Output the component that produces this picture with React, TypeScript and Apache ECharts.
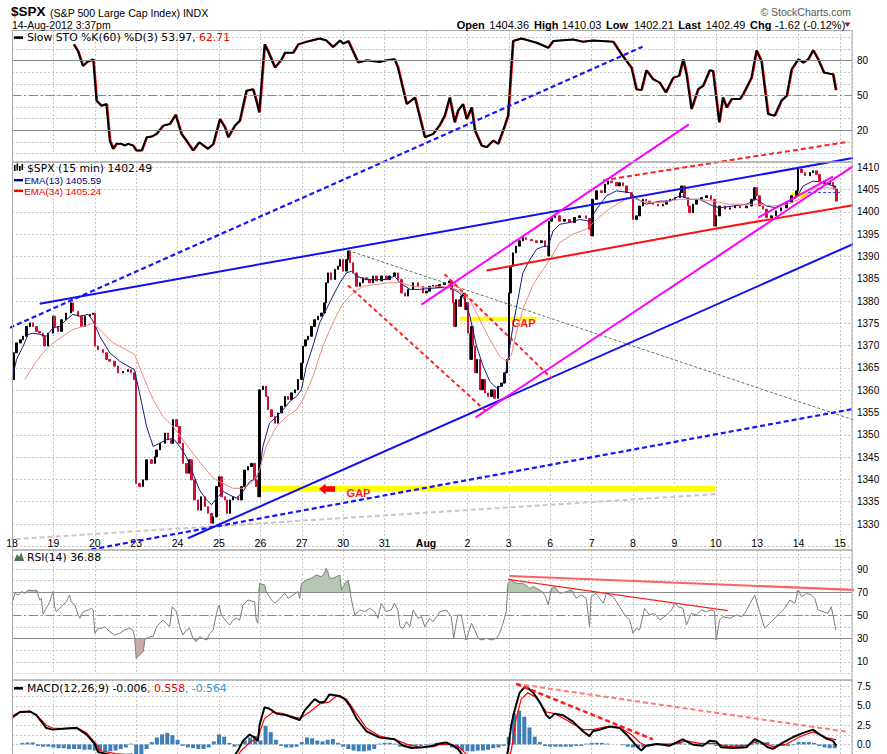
import React, { useEffect, useRef } from 'react';
import * as echarts from 'echarts';

// ---------- DATA (x = trading-day index from Jul 18, y = value) ----------
const DAY_LABELS = ['18', '19', '20', '23', '24', '25', '26', '27', '30', '31', 'Aug', '2', '3', '6', '7', '8', '9', '10', '13', '14', '15'];

// $SPX 15-min price path (day, price)
const PRICE: [number, number][] = [
  [0.0, 1362.4], [0.04, 1368.4], [0.11, 1370.6], [0.2, 1371.3], [0.27, 1372.1], [0.35, 1374.3], [0.43, 1375.1], [0.51, 1374.3], [0.59, 1373.2], [0.67, 1372.8], [0.75, 1372.1], [0.79, 1369.9], [0.87, 1372.8], [0.99, 1376.6], [1.03, 1374.3], [1.11, 1373.2], [1.19, 1375.8], [1.31, 1377.3], [1.43, 1379.6], [1.47, 1377.7], [1.6, 1376.6], [1.68, 1374.3], [1.76, 1376.6], [1.88, 1377.0], [1.96, 1377.3],
  [2.0, 1369.9], [2.08, 1369.1], [2.2, 1368.4], [2.28, 1366.9], [2.36, 1366.5], [2.48, 1365.4], [2.56, 1363.9], [2.68, 1364.2], [2.8, 1364.6], [2.88, 1363.9], [2.96, 1362.4],
  [3.0, 1339.1], [3.08, 1338.4], [3.17, 1339.9], [3.25, 1344.4], [3.37, 1343.6], [3.45, 1345.1], [3.49, 1346.6], [3.57, 1348.1], [3.69, 1350.4], [3.77, 1348.9], [3.85, 1348.1], [3.89, 1353.4], [3.97, 1351.9],
  [4.05, 1348.1], [4.13, 1343.6], [4.21, 1341.4], [4.29, 1344.4], [4.33, 1339.9], [4.41, 1335.4], [4.49, 1333.1], [4.57, 1336.1], [4.66, 1333.9], [4.74, 1332.4], [4.82, 1330.2], [4.86, 1331.6], [4.94, 1338.4],
  [5.0, 1340.6], [5.06, 1336.1], [5.14, 1335.4], [5.19, 1332.4], [5.26, 1335.4], [5.34, 1336.1], [5.46, 1335.4], [5.54, 1338.4], [5.62, 1342.1], [5.7, 1342.9], [5.78, 1343.6], [5.86, 1339.9], [5.9, 1338.4], [5.94, 1336.1],
  [5.98, 1360.1], [6.06, 1360.9], [6.14, 1358.6], [6.18, 1355.6], [6.27, 1354.1], [6.35, 1352.6], [6.43, 1354.9], [6.51, 1356.4], [6.59, 1358.6], [6.67, 1357.9], [6.75, 1359.4], [6.83, 1360.1], [6.91, 1362.4], [6.99, 1366.1],
  [7.03, 1369.9], [7.09, 1371.3], [7.15, 1372.1], [7.23, 1374.3], [7.31, 1375.8], [7.39, 1376.6], [7.47, 1377.3], [7.55, 1379.6], [7.59, 1384.1], [7.63, 1386.3], [7.71, 1384.8], [7.8, 1387.1], [7.88, 1387.8], [7.92, 1389.3],
  [8.0, 1386.7], [8.08, 1389.3], [8.12, 1391.2], [8.17, 1388.6], [8.24, 1386.3], [8.32, 1383.3], [8.4, 1384.1], [8.48, 1385.2], [8.56, 1384.8], [8.64, 1384.1], [8.72, 1385.6], [8.8, 1384.5], [8.92, 1385.6],
  [9.04, 1384.8], [9.12, 1385.6], [9.24, 1386.3], [9.32, 1384.8], [9.41, 1381.8], [9.49, 1381.1], [9.57, 1382.6], [9.69, 1384.1], [9.81, 1383.3], [9.93, 1381.8],
  [10.01, 1382.2], [10.09, 1383.3], [10.17, 1383.5], [10.25, 1383.0], [10.33, 1383.7], [10.45, 1384.1], [10.57, 1384.5], [10.61, 1382.6], [10.65, 1379.6], [10.69, 1374.3], [10.73, 1380.3], [10.81, 1378.8], [10.85, 1381.1], [10.89, 1381.8], [10.94, 1378.1], [10.98, 1379.6],
  [11.02, 1372.8], [11.06, 1366.9], [11.1, 1374.3], [11.14, 1369.9], [11.18, 1363.9], [11.23, 1366.9], [11.3, 1360.1], [11.36, 1362.4], [11.42, 1359.4], [11.5, 1358.6], [11.58, 1360.1], [11.66, 1358.2], [11.74, 1360.9], [11.82, 1361.6], [11.9, 1363.9], [11.96, 1366.9],
  [12.01, 1381.8], [12.04, 1387.8], [12.1, 1390.8], [12.18, 1392.3], [12.26, 1393.5], [12.34, 1394.2], [12.42, 1393.8], [12.55, 1393.5], [12.67, 1393.1], [12.79, 1393.5], [12.87, 1392.3], [12.95, 1390.1],
  [12.97, 1397.9], [13.03, 1398.7], [13.11, 1399.1], [13.23, 1397.9], [13.35, 1398.3], [13.47, 1397.6], [13.59, 1398.7], [13.71, 1399.1], [13.87, 1398.5], [13.95, 1396.1], [13.99, 1394.6],
  [14.02, 1402.8], [14.12, 1404.7], [14.24, 1404.3], [14.32, 1406.2], [14.4, 1406.9], [14.48, 1406.6], [14.6, 1405.8], [14.68, 1406.5], [14.76, 1405.8], [14.84, 1404.3], [14.96, 1403.2],
  [15.0, 1398.3], [15.08, 1399.1], [15.16, 1401.3], [15.24, 1402.8], [15.32, 1402.4], [15.4, 1402.1], [15.48, 1401.7], [15.61, 1401.3], [15.73, 1401.7], [15.81, 1402.4], [15.89, 1402.8],
  [16.01, 1403.2], [16.13, 1404.3], [16.17, 1405.8], [16.25, 1403.2], [16.33, 1401.3], [16.37, 1399.8], [16.45, 1401.7], [16.53, 1402.8], [16.65, 1403.2], [16.77, 1403.6], [16.89, 1402.8],
  [16.97, 1396.8], [17.01, 1399.1], [17.09, 1401.3], [17.22, 1400.6], [17.34, 1400.9], [17.46, 1401.3], [17.58, 1400.9], [17.74, 1401.3], [17.86, 1402.8], [17.94, 1405.4],
  [17.98, 1403.6], [18.06, 1401.3], [18.14, 1400.6], [18.22, 1398.7], [18.34, 1399.1], [18.46, 1400.2], [18.58, 1400.9], [18.71, 1402.1], [18.83, 1403.6], [18.95, 1404.7],
  [18.99, 1409.6], [19.07, 1408.8], [19.15, 1408.1], [19.27, 1408.8], [19.35, 1409.2], [19.43, 1408.4], [19.51, 1406.9], [19.63, 1406.2], [19.75, 1406.6], [19.83, 1405.8], [19.87, 1405.1], [19.91, 1402.4],
];

const EMA13: [number, number][] = [
  [0.0, 1362.4], [0.11, 1366.9], [0.27, 1369.9], [0.39, 1372.5], [0.51, 1372.8], [0.67, 1372.5], [0.83, 1372.1], [0.99, 1374.0], [1.15, 1374.3], [1.31, 1375.8], [1.47, 1377.0], [1.64, 1376.6], [1.84, 1377.0], [1.96, 1375.5],
  [2.12, 1372.1], [2.36, 1368.4], [2.6, 1366.5], [2.8, 1365.4], [2.96, 1364.6], [3.08, 1359.4], [3.25, 1351.9], [3.41, 1347.4], [3.57, 1348.1], [3.73, 1348.9], [3.89, 1349.2], [4.05, 1347.4], [4.21, 1345.1], [4.37, 1341.4],
  [4.53, 1337.6], [4.7, 1335.4], [4.82, 1334.3], [4.94, 1335.8], [5.1, 1337.3], [5.26, 1336.5], [5.42, 1335.8], [5.58, 1337.3], [5.74, 1339.5], [5.9, 1340.3], [5.98, 1341.4], [6.06, 1347.4], [6.22, 1352.6], [6.39, 1354.1],
  [6.55, 1355.6], [6.71, 1357.5], [6.87, 1358.6], [6.99, 1360.1], [7.11, 1365.4], [7.27, 1369.9], [7.43, 1375.1], [7.59, 1378.1], [7.75, 1381.1], [7.92, 1384.1], [8.08, 1386.3], [8.2, 1386.7], [8.32, 1385.6], [8.56, 1384.8],
  [8.8, 1384.8], [9.04, 1384.8], [9.24, 1385.6], [9.37, 1384.1], [9.61, 1382.6], [9.85, 1382.6], [10.33, 1383.0], [10.61, 1383.0], [10.81, 1381.8], [10.94, 1380.3], [11.06, 1376.6], [11.22, 1369.9], [11.38, 1365.4],
  [11.54, 1362.0], [11.7, 1360.5], [11.82, 1360.9], [11.9, 1362.4], [11.98, 1366.9], [12.1, 1374.3], [12.22, 1380.3], [12.34, 1386.3], [12.51, 1389.3], [12.67, 1391.6], [12.83, 1392.2], [12.95, 1392.3], [13.07, 1395.7],
  [13.23, 1397.2], [13.47, 1397.6], [13.71, 1398.3], [13.95, 1397.9], [14.12, 1400.6], [14.36, 1403.6], [14.6, 1404.7], [14.92, 1404.3], [15.12, 1402.8], [15.32, 1401.7], [15.65, 1402.4], [15.89, 1402.4], [16.13, 1403.6],
  [16.37, 1402.8], [16.61, 1402.8], [16.93, 1401.3], [17.09, 1400.9], [17.42, 1401.3], [17.74, 1401.7], [17.98, 1402.8], [18.22, 1401.3], [18.46, 1400.9], [18.71, 1402.1], [18.95, 1403.2], [19.11, 1405.8], [19.35, 1406.9],
  [19.59, 1406.6], [19.83, 1405.8], [19.91, 1405.6],
];

const EMA34: [number, number][] = [
  [0.31, 1362.4], [0.51, 1365.4], [0.75, 1368.4], [0.99, 1370.6], [1.23, 1372.1], [1.47, 1373.6], [1.72, 1374.3], [1.96, 1375.1], [2.12, 1373.6], [2.44, 1370.6], [2.76, 1369.1], [2.96, 1368.0], [3.17, 1363.1], [3.41, 1357.9],
  [3.65, 1354.1], [3.89, 1351.9], [4.13, 1348.9], [4.37, 1345.9], [4.62, 1342.9], [4.86, 1340.3], [5.1, 1339.1], [5.34, 1338.0], [5.58, 1338.0], [5.82, 1339.5], [5.98, 1342.1], [6.14, 1347.5], [6.39, 1351.9], [6.63, 1354.1],
  [6.87, 1355.6], [7.03, 1357.9], [7.27, 1363.1], [7.51, 1369.9], [7.75, 1375.1], [8.0, 1379.6], [8.24, 1381.8], [8.48, 1383.3], [8.8, 1383.7], [9.12, 1384.1], [9.37, 1384.1], [9.69, 1383.3], [10.01, 1383.0], [10.33, 1383.3],
  [10.61, 1383.0], [10.81, 1382.2], [11.06, 1380.3], [11.3, 1375.8], [11.54, 1371.4], [11.78, 1367.6], [11.94, 1366.5], [12.06, 1367.8], [12.18, 1372.8], [12.34, 1378.1], [12.59, 1383.7], [12.83, 1387.1], [12.99, 1389.3],
  [13.23, 1393.1], [13.55, 1395.0], [13.87, 1396.1], [14.12, 1398.3], [14.36, 1400.2], [14.68, 1402.1], [14.92, 1403.2], [15.32, 1402.1], [15.73, 1402.1], [16.13, 1402.8], [16.53, 1402.8], [16.93, 1402.4], [17.34, 1401.7],
  [17.74, 1401.7], [18.06, 1401.7], [18.38, 1401.3], [18.71, 1401.7], [19.03, 1402.8], [19.35, 1405.1], [19.67, 1405.4], [19.91, 1405.2],
];

// Slow STO %K(60)
const STO_K: [number, number][] = [
  [1.49, 94.0], [1.59, 88.3], [1.71, 75.4], [1.81, 78.9], [1.92, 80.3], [1.96, 81.2], [2.04, 45.4], [2.16, 41.1], [2.28, 42.6], [2.36, 11.1], [2.44, 4.0], [2.52, 8.3], [2.64, 8.3], [2.72, 6.9], [2.8, 8.3], [2.92, 6.9],
  [3.0, 2.6], [3.13, 2.6], [3.25, 14.0], [3.37, 14.6], [3.49, 16.9], [3.65, 24.0], [3.81, 25.4], [3.95, 33.4], [4.09, 16.9], [4.21, 11.1], [4.37, 2.6], [4.52, 9.7], [4.73, 4.0], [4.86, 8.3], [5.02, 29.7], [5.14, 22.6],
  [5.22, 14.0], [5.38, 24.0], [5.5, 28.3], [5.66, 54.0], [5.82, 55.4], [5.9, 45.4], [5.97, 35.4], [6.1, 94.0], [6.18, 88.3], [6.35, 74.0], [6.51, 81.2], [6.59, 86.8], [6.79, 86.8], [6.91, 94.0], [7.11, 96.3], [7.43, 99.1],
  [7.59, 97.4], [7.75, 91.7], [7.92, 97.4], [8.0, 94.6], [8.12, 96.9], [8.36, 78.3], [8.56, 80.3], [8.88, 78.9], [9.04, 80.3], [9.24, 81.2], [9.32, 74.0], [9.53, 42.6], [9.73, 48.3], [9.97, 14.0], [10.17, 16.9],
  [10.33, 24.5], [10.45, 32.6], [10.57, 48.3], [10.69, 26.8], [10.77, 36.9], [10.89, 42.6], [10.98, 29.7], [11.1, 39.7], [11.18, 19.7], [11.34, 6.9], [11.46, 5.4], [11.62, 11.1], [11.74, 8.3], [11.9, 24.0], [11.98, 32.6],
  [12.1, 96.9], [12.3, 99.1], [12.67, 95.4], [12.95, 91.1], [13.07, 96.9], [13.55, 98.3], [13.79, 96.3], [14.03, 97.4], [14.52, 96.3], [14.72, 85.4], [14.96, 74.0], [15.08, 55.4], [15.2, 54.6], [15.32, 71.7], [15.48, 64.0],
  [15.64, 61.1], [15.79, 52.5], [15.97, 65.4], [16.11, 66.9], [16.21, 81.2], [16.29, 68.3], [16.41, 38.3], [16.57, 55.4], [16.69, 58.3], [16.85, 71.7], [16.93, 71.1], [17.08, 26.8], [17.17, 48.3], [17.26, 39.7], [17.38, 46.9],
  [17.58, 46.9], [17.66, 51.2], [17.86, 65.4], [17.98, 88.9], [18.1, 79.7], [18.26, 34.0], [18.42, 32.6], [18.58, 45.4], [18.71, 49.7], [18.83, 72.6], [18.99, 81.2], [19.11, 78.3], [19.23, 81.2], [19.35, 88.9], [19.47, 81.2],
  [19.61, 69.7], [19.75, 68.8], [19.83, 68.3], [19.9, 54.6],
];
const STO_D_LAG = 0.025; // %D(3) trails %K by about one bar

// RSI(14)
const RSI: [number, number][] = [
  [0.0, 60.4], [0.07, 69.0], [0.15, 67.6], [0.23, 70.5], [0.31, 69.0], [0.39, 71.9], [0.51, 71.3], [0.59, 71.9], [0.67, 63.3], [0.71, 64.7], [0.75, 51.2], [0.83, 56.1], [0.91, 61.8], [0.99, 70.5], [1.03, 57.5], [1.07, 53.2],
  [1.19, 57.5], [1.31, 61.8], [1.39, 67.6], [1.43, 61.8], [1.52, 59.0], [1.6, 50.3], [1.64, 47.5], [1.72, 53.2], [1.8, 54.1], [1.92, 56.1], [1.96, 54.7], [2.0, 34.5], [2.08, 38.9], [2.16, 38.9], [2.24, 40.3], [2.36, 36.0],
  [2.48, 33.1], [2.6, 34.5], [2.72, 37.4], [2.84, 38.9], [2.92, 37.4], [2.96, 31.7], [3.0, 13.0], [3.08, 15.9], [3.17, 18.7], [3.21, 28.8], [3.25, 30.2], [3.33, 31.7], [3.41, 31.7], [3.49, 40.3], [3.65, 46.0], [3.73, 43.2],
  [3.81, 40.3], [3.87, 57.5], [3.97, 53.2], [4.05, 40.3], [4.13, 33.1], [4.21, 37.4], [4.29, 38.9], [4.37, 30.2], [4.45, 27.4], [4.53, 31.7], [4.61, 30.2], [4.7, 28.8], [4.78, 34.5], [4.86, 37.4], [4.94, 51.8], [5.0, 59.0],
  [5.06, 50.3], [5.18, 44.6], [5.26, 41.7], [5.34, 46.0], [5.42, 47.5], [5.5, 46.0], [5.58, 59.0], [5.7, 63.3], [5.86, 61.8], [5.9, 46.0], [5.94, 43.2], [5.98, 77.6], [6.1, 76.2], [6.14, 70.5], [6.27, 63.3], [6.35, 60.4],
  [6.47, 64.7], [6.59, 69.0], [6.67, 64.7], [6.79, 67.6], [6.91, 70.5], [6.95, 64.7], [6.99, 77.6], [7.11, 80.5], [7.23, 82.0], [7.35, 84.8], [7.47, 83.4], [7.55, 86.3], [7.59, 90.6], [7.63, 87.7], [7.67, 82.0], [7.75, 82.0],
  [7.83, 83.4], [7.92, 84.8], [7.96, 71.9], [8.04, 77.6], [8.12, 80.5], [8.2, 63.3], [8.28, 50.3], [8.4, 54.7], [8.52, 53.2], [8.64, 56.1], [8.76, 53.2], [8.84, 47.5], [8.92, 60.4], [9.04, 53.2], [9.16, 54.7], [9.24, 60.4],
  [9.32, 54.7], [9.37, 40.3], [9.45, 38.9], [9.53, 44.6], [9.61, 40.3], [9.69, 54.7], [9.81, 47.5], [9.89, 48.9], [9.97, 40.3], [10.09, 47.5], [10.17, 44.6], [10.29, 50.3], [10.33, 53.2], [10.49, 54.7], [10.61, 48.9],
  [10.67, 30.2], [10.73, 43.2], [10.77, 50.3], [10.85, 50.3], [10.97, 28.8], [11.1, 43.2], [11.18, 37.4], [11.26, 30.2], [11.34, 28.8], [11.46, 30.2], [11.58, 28.8], [11.7, 30.2], [11.78, 34.5], [11.86, 43.2], [11.94, 53.2],
  [11.98, 77.6], [12.06, 80.5], [12.18, 77.6], [12.34, 77.6], [12.51, 73.3], [12.59, 74.8], [12.75, 71.9], [12.87, 67.6], [12.95, 59.0], [13.03, 73.3], [13.11, 74.8], [13.23, 69.0], [13.39, 70.5], [13.51, 71.9], [13.63, 64.7],
  [13.75, 67.6], [13.87, 64.7], [13.95, 40.3], [13.99, 66.1], [14.11, 69.0], [14.28, 60.4], [14.36, 69.0], [14.52, 66.1], [14.68, 57.5], [14.8, 50.3], [14.92, 46.0], [15.0, 34.5], [15.08, 38.9], [15.16, 37.4], [15.28, 56.1],
  [15.4, 50.3], [15.52, 51.8], [15.65, 46.0], [15.81, 50.3], [15.93, 54.7], [16.01, 60.4], [16.09, 57.5], [16.21, 56.1], [16.29, 41.7], [16.41, 51.8], [16.53, 50.3], [16.65, 54.7], [16.77, 53.2], [16.89, 54.7], [16.97, 53.2],
  [17.01, 28.8], [17.09, 46.0], [17.17, 48.9], [17.34, 47.5], [17.5, 50.3], [17.62, 48.9], [17.7, 51.8], [17.94, 67.6], [18.06, 53.2], [18.18, 38.9], [18.3, 43.2], [18.46, 48.9], [18.54, 51.8], [18.66, 56.1], [18.79, 63.3],
  [18.91, 60.4], [18.99, 71.9], [19.07, 66.1], [19.19, 69.0], [19.31, 67.6], [19.39, 64.7], [19.47, 54.7], [19.59, 53.2], [19.71, 51.8], [19.79, 57.5], [19.83, 50.3], [19.9, 37.4],
];

// MACD(12,26,9) line and signal line
const MACD: [number, number][] = [
  [0.0, 3.58], [0.19, 4.21], [0.43, 4.29], [0.59, 3.79], [0.83, 2.13], [0.99, 1.92], [1.23, 2.04], [1.56, 2.13], [1.8, 1.29], [2.0, 0.04], [2.08, -1.0], [2.5, -1.5], [2.9, -1.3], [3.05, -3.5], [3.3, -5.0], [3.7, -4.5],
  [4.0, -4.2], [4.5, -4.8], [4.9, -4.5], [5.1, -3.0], [5.3, -2.0], [5.46, -0.79], [5.58, 0.46], [5.74, 1.29], [5.86, 0.88], [5.94, 0.46], [5.98, 2.54], [6.1, 4.83], [6.22, 4.63], [6.39, 4.0], [6.63, 3.79], [6.95, 3.17],
  [7.07, 4.42], [7.31, 5.88], [7.43, 5.46], [7.55, 5.54], [7.67, 6.5], [7.92, 6.29], [8.04, 5.88], [8.16, 5.04], [8.32, 3.38], [8.56, 1.71], [8.88, 0.88], [9.24, 0.67], [9.45, -0.17], [9.65, -0.46], [9.93, -0.38],
  [10.17, -0.17], [10.33, 0.13], [10.49, 0.25], [10.65, -0.17], [10.77, -0.58], [10.9, -1.5], [11.1, -3.5], [11.4, -4.5], [11.7, -4.8], [11.9, -3.0], [11.98, -0.79], [12.06, 2.54], [12.14, 4.42], [12.26, 6.71],
  [12.38, 7.46], [12.46, 7.33], [12.59, 6.71], [12.75, 5.46], [12.91, 3.79], [12.99, 3.38], [13.11, 4.0], [13.31, 3.79], [13.55, 2.96], [13.79, 1.71], [13.95, 1.08], [14.03, 1.71], [14.2, 1.92], [14.44, 2.33],
  [14.68, 2.13], [14.88, 1.08], [15.08, -0.17], [15.2, -0.79], [15.32, -0.17], [15.57, 0.04], [15.89, -0.17], [16.21, 0.67], [16.29, 0.38], [16.45, -0.04], [16.69, -0.17], [16.85, 0.46], [17.01, 0.38], [17.13, -0.38],
  [17.42, -0.46], [17.74, -0.38], [17.94, 0.67], [18.06, 0.38], [18.26, -0.38], [18.38, -0.58], [18.63, 0.25], [18.87, 0.96], [19.11, 1.5], [19.35, 1.92], [19.51, 1.29], [19.67, 0.75], [19.83, 0.46], [19.91, -0.17],
];

const SIGNAL: [number, number][] = [
  [0.0, 3.38], [0.19, 4.13], [0.43, 4.29], [0.59, 3.88], [0.83, 2.46], [0.99, 2.13], [1.23, 2.04], [1.56, 2.21], [1.8, 1.5], [2.04, 0.04], [2.12, -0.79], [2.5, -1.2], [3.0, -1.4], [3.3, -2.5], [3.7, -3.8], [4.2, -4.3],
  [4.8, -4.4], [5.2, -3.3], [5.54, -0.79], [5.74, 0.25], [5.94, 0.88], [6.1, 3.38], [6.31, 4.21], [6.55, 4.0], [6.79, 3.58], [6.95, 3.38], [7.19, 4.21], [7.43, 5.25], [7.67, 5.54], [7.84, 6.29], [8.08, 5.88], [8.32, 4.0],
  [8.56, 2.13], [8.88, 1.08], [9.24, 0.67], [9.53, 0.04], [9.85, -0.38], [10.17, -0.29], [10.33, -0.04], [10.65, -0.04], [10.81, -0.38], [11.2, -2.5], [11.6, -3.8], [11.9, -3.5], [12.06, -0.79], [12.18, 3.38], [12.3, 5.88],
  [12.46, 6.71], [12.67, 6.08], [12.91, 4.21], [13.11, 4.0], [13.39, 3.17], [13.79, 1.92], [14.03, 1.92], [14.36, 2.33], [14.68, 2.21], [14.96, 1.29], [15.16, 0.25], [15.32, -0.17], [15.65, 0.04], [15.97, 0.04], [16.29, 0.46],
  [16.61, 0.13], [17.01, 0.13], [17.26, -0.29], [17.74, -0.17], [18.02, 0.46], [18.38, -0.29], [18.71, 0.04], [19.03, 1.0], [19.35, 1.63], [19.67, 0.88], [19.91, 0.58],
];

// MACD histogram, one bar every 1/8 day starting at day 0.25
const HIST_START = 0.25;
const HIST_STEP = 0.125;
const HIST: number[] = [
  0.2, 0.25, 0.25,
  -0.2, -0.3, -0.3, -0.4,
  -0.5, -0.5, -0.6, -0.6, -0.6, -0.7, -0.7, -0.8,
  -0.8, -0.9, -0.9, -0.8, -0.6, -0.4, 0.1, -2.0,
  -1.5, -0.6, 0.3, 0.9, 1.3, 1.5, 1.2, 0.6,
  -0.2, -0.4, -0.5, -0.6, -0.6, -0.4, 0.4, 1.3,
  1.0, 0.2, -0.3, -0.2, 0.5, 0.9, 1.1, 0.5,
  2.4, 1.6, 0.6, -0.2, -0.4, -0.4, -0.3, 0.3,
  0.9, 0.8, 0.5, 0.4, 0.6, 0.7, 0.2, -0.3,
  -0.6, -0.8, -0.9, -0.9, -0.8, -0.6, 0.1, 0.2,
  0.2, 0.1, -0.3, -0.3, -0.3, -0.2, -0.2, -0.1,
  0.1, 0.2, 0.2, 0.1, -0.4, -0.6, -0.8, -0.9,
  -0.9, -0.8, -0.8, -0.7, -0.5, -0.4, -0.2, 1.0,
  4.0, 4.4, 3.6, 2.2, 1.0, 0.3, -0.2, -0.3,
  -0.3, -0.3, -0.3, -0.3, -0.2, -0.2, 0.1, 0.2,
  0.2, 0.2, 0.1, 0.0, 0.0, -0.1, -0.3, -0.4,
  -0.4, -0.4, -0.3, 0.1, 0.1, 0.1, 0.1, 0.1,
  0.2, 0.1, 0.1, 0.1, 0.1, 0.1, 0.1, -0.2,
  -0.3, -0.3, -0.3, -0.3, -0.3, -0.2, -0.1, 0.3,
  0.3, 0.3, -0.1, -0.2, -0.2, -0.2, -0.1, 0.3,
  0.3, 0.3, 0.2, -0.2, -0.4, -0.5, -0.5,
];

// Hand-drawn trendlines (day, price)
const BLUE_DASH_TOP: [number, number][] = [[-0.056, 1374.0], [15.23, 1437.0]];
const BLUE_SOLID_TOP: [number, number][] = [[0.669, 1379.4], [21.13, 1413.4]];
const BLUE_SOLID_LOW: [number, number][] = [[4.251, 1326.8], [21.13, 1396.1]];
const BLUE_DASH_LOW: [number, number][] = [[1.918, 1324.3], [20.676, 1356.4]];
const GRAY_DASH: [number, number][] = [[-0.297, 1326.4], [17.01, 1336.7]];
const GREEN_DASH: [number, number][] = [[8.116, 1391.35], [20.676, 1352.25]];
const RED_DASH_1: [number, number][] = [[8.116, 1383.5], [11.5, 1354.9]];
const RED_DASH_2: [number, number][] = [[10.45, 1386.0], [13.03, 1362.7]];
const RED_DASH_TOP: [number, number][] = [[14.28, 1407.1], [20.19, 1415.7]];
const RED_SOLID: [number, number][] = [[11.46, 1386.85], [16.98, 1396.2], [20.76, 1402.2]];
const MAGENTA_UP: [number, number][] = [[9.889, 1379.2], [16.35, 1419.6]];
const MAGENTA_LOW: [number, number][] = [[11.2, 1353.9], [20.88, 1413.7]];
const MAGENTA_SHORT: [number, number][] = [[18.02, 1398.7], [19.83, 1407.9]];
const GAP_BIG: [number, number][] = [[5.96, 1337.9], [16.98, 1337.9]];
const GAP_SMALL: [number, number][] = [[10.83, 1376.0], [12.67, 1376.0]];
const GAP_AUG14: [number, number][] = [[18.83, 1403.8], [19.23, 1403.8]];
const BLUE_THIN_AUG14: [number, number][] = [[19.23, 1404.3], [20.0, 1404.3]];
const GAP_LABELS: [number, number][] = [[8.37, 1337.0], [12.36, 1375.0]];
const GAP_ARROW: [number, number] = [7.61, 1337.85];

const RSI_RED_LONG: [number, number][] = [[12.02, 84.0], [20.43, 71.9]];
const RSI_RED_SHORT: [number, number][] = [[11.98, 81.1], [17.29, 54.05]];
const MACD_RED_DASH: [number, number][] = [[12.18, 7.875], [15.48, 0.66]];
const MACD_PINK_DASH: [number, number][] = [[12.18, 7.875], [20.19, 1.625]];

// ---------- CHART ----------
const SANS = 'Liberation Sans, Arial, sans-serif';
const VERD = 'DejaVu Sans, Verdana, sans-serif';
const X_MAX = 20.29;
const GRID_DASH = { color: '#c6c6c6', type: [2, 2] as number[], width: 1 };

const near = (v: number, step: number) => Math.abs(v / step - Math.round(v / step)) < 1e-6;

function yAx(grid: number, min: number, max: number, interval: number, fmt: (v: number) => string) {
  return {
    type: 'value', gridIndex: grid, position: 'right', min, max, interval,
    axisLine: { show: false }, axisTick: { show: false },
    splitLine: { show: true, lineStyle: GRID_DASH },
    axisLabel: { formatter: fmt, color: '#000', fontSize: 10, fontFamily: SANS, margin: 5 },
  };
}

function tl(data: any, color: string, width: number, type: any, xi: number, clip = false, z = 6) {
  return {
    type: 'line', xAxisIndex: xi, yAxisIndex: xi, data, symbol: 'none', clip, silent: true, z,
    lineStyle: { color, width, type }, emphasis: { disabled: true },
  };
}

function buildOption(): any {
  const candles = PRICE.slice(1).map((p, i) => {
    const o = PRICE[i][1];
    const c = p[1];
    return [p[0], o, c, Math.min(o, c), Math.max(o, c)];
  });

  const grid = [
    { left: 12, top: 30, width: 840, height: 123.5 },
    { left: 12, top: 162, width: 840, height: 384.3 },
    { left: 12, top: 550, width: 840, height: 123.4 },
    { left: 12, top: 680, width: 840, height: 77 },
  ];

  const xAxis = [0, 1, 2, 3].map((i) => ({
    type: 'value', gridIndex: i, min: 0, max: X_MAX, interval: 1,
    axisLine: { show: false }, axisTick: { show: false },
    splitLine: { show: true, lineStyle: GRID_DASH },
    axisLabel: i === 1
      ? {
        show: true, inside: true, margin: 3, verticalAlign: 'middle', color: '#000', fontSize: 10.5, fontFamily: SANS,
        formatter: (v: number) => {
          const k = Math.round(v);
          if (Math.abs(v - k) > 1e-6 || k < 0 || k >= DAY_LABELS.length) return '';
          return k === 10 ? '{b|Aug}' : DAY_LABELS[k];
        },
        rich: { b: { fontWeight: 'bold', fontSize: 10.5, fontFamily: SANS, color: '#000' } },
      }
      : { show: false },
  }));

  const yAxis = [
    yAx(0, 0, 106.4, 10, (v) => (near(v, 10) && [20, 50, 80].includes(Math.round(v)) ? String(Math.round(v)) : '')),
    yAx(1, 1325, 1411.17, 5, (v) => (near(v, 5) && v >= 1329 && v <= 1411 ? String(Math.round(v)) : '')),
    yAx(2, 0, 106.4, 10, (v) => (near(v, 10) && [10, 30, 50, 70, 90].includes(Math.round(v)) ? String(Math.round(v)) : '')),
    yAx(3, -1.25, 8.375, 1.25, (v) => (near(v, 2.5) && v > -0.1 && v < 8 ? (Math.round(v * 10) / 10).toFixed(1) : '')),
  ];

  const refLines = (solid: number[], mid: number) => ({
    silent: true, symbol: ['none', 'none'], label: { show: false }, animation: false,
    data: [
      ...solid.map((y) => ({ yAxis: y, lineStyle: { color: '#8a8a8a', width: 1, type: 'solid' } })),
      { yAxis: mid, lineStyle: { color: '#8a8a8a', width: 1, type: [9, 3, 2, 3] } },
    ],
  });

  const series: any[] = [
    // ---- Slow STO ----
    {
      type: 'line', xAxisIndex: 0, yAxisIndex: 0, data: STO_K.map(([d, v]) => [d + STO_D_LAG, v]), symbol: 'none', z: 2,
      lineStyle: { color: '#ff0000', width: 1.4 }, markLine: refLines([80, 20], 50),
    },
    { type: 'line', xAxisIndex: 0, yAxisIndex: 0, data: STO_K, symbol: 'none', z: 3, lineStyle: { color: '#000', width: 2 } },

    // ---- Price ----
    tl(GAP_BIG, '#ffff00', 6, 'solid', 1, false, 3),
    tl(GAP_SMALL, '#ffff00', 4, 'solid', 1, false, 3),
    tl(GAP_AUG14, '#ffff00', 5, 'solid', 1, false, 3),
    {
      type: 'candlestick', xAxisIndex: 1, yAxisIndex: 1, data: candles, encode: { x: 0, y: [1, 2, 3, 4] }, barWidth: 2, z: 4,
      itemStyle: { color: '#000000', color0: '#cc1133', borderColor: '#000000', borderColor0: '#cc1133', borderWidth: 1 },
    },
    { type: 'line', xAxisIndex: 1, yAxisIndex: 1, data: EMA13, symbol: 'none', z: 5, lineStyle: { color: '#1a1a80', width: 1 } },
    { type: 'line', xAxisIndex: 1, yAxisIndex: 1, data: EMA34, symbol: 'none', z: 5, lineStyle: { color: '#f08a80', width: 1 } },
    tl(GRAY_DASH, '#c8c8c8', 2, [5, 3], 1),
    tl(GREEN_DASH, '#4f7f4f', 1, [3, 2], 1),
    tl(BLUE_DASH_TOP, '#1515ff', 2.2, [5, 3], 1),
    tl(BLUE_DASH_LOW, '#1515ff', 2.2, [5, 3], 1),
    tl(BLUE_SOLID_TOP, '#1010f0', 2, 'solid', 1),
    tl(BLUE_SOLID_LOW, '#1010f0', 2, 'solid', 1),
    tl(BLUE_THIN_AUG14, '#2233dd', 1, [3, 2], 1),
    tl(RED_DASH_1, '#ff2020', 2, [4, 3], 1),
    tl(RED_DASH_2, '#ff2020', 2, [4, 3], 1),
    tl(RED_DASH_TOP, '#ff2020', 2, [5, 3], 1),
    tl(RED_SOLID, '#ff1010', 2, 'solid', 1),
    tl(MAGENTA_UP, '#ff00ff', 2, 'solid', 1),
    tl(MAGENTA_LOW, '#ff00ff', 2, 'solid', 1),
    tl(MAGENTA_SHORT, '#ff00ff', 2, 'solid', 1),
    {
      type: 'scatter', xAxisIndex: 1, yAxisIndex: 1, data: [], z: 8, silent: true,
      markPoint: {
        silent: true, animation: false,
        data: [
          ...GAP_LABELS.map((c) => ({
            coord: c, symbol: 'rect', symbolSize: [1, 1], itemStyle: { color: 'rgba(0,0,0,0)' },
            label: { show: true, position: 'inside', formatter: 'GAP', color: '#ff1a1a', fontWeight: 'bold', fontSize: 11, fontFamily: SANS },
          })),
          {
            coord: GAP_ARROW, symbol: 'path://M0,6L7,0L7,3L17,3L17,9L7,9L7,12Z', symbolSize: [16, 11],
            itemStyle: { color: '#ff0000' }, label: { show: false },
          },
        ],
      },
    },

    // ---- RSI ----
    {
      type: 'line', xAxisIndex: 2, yAxisIndex: 2, data: RSI.map(([d, v]) => [d, Math.max(v, 70)]), symbol: 'none', z: 1,
      lineStyle: { width: 0, opacity: 0 }, areaStyle: { origin: 70, color: '#b3c7b1', opacity: 1 }, markLine: refLines([70, 30], 50),
    },
    {
      type: 'line', xAxisIndex: 2, yAxisIndex: 2, data: RSI.map(([d, v]) => [d, Math.min(v, 30)]), symbol: 'none', z: 1,
      lineStyle: { width: 0, opacity: 0 }, areaStyle: { origin: 30, color: '#c9aaaa', opacity: 1 },
    },
    { type: 'line', xAxisIndex: 2, yAxisIndex: 2, data: RSI, symbol: 'none', z: 3, lineStyle: { color: '#7d7d7d', width: 1 } },
    tl(RSI_RED_LONG, '#ff6060', 2.2, 'solid', 2),
    tl(RSI_RED_SHORT, '#ff2020', 1.2, 'solid', 2),

    // ---- MACD ----
    {
      type: 'bar', xAxisIndex: 3, yAxisIndex: 3, data: HIST.map((v, i) => [HIST_START + i * HIST_STEP, v]), barWidth: 4, z: 1,
      itemStyle: { color: '#3f7fb8' },
    },
    { type: 'line', xAxisIndex: 3, yAxisIndex: 3, data: SIGNAL, symbol: 'none', z: 2, lineStyle: { color: '#ff0000', width: 1.2 } },
    { type: 'line', xAxisIndex: 3, yAxisIndex: 3, data: MACD, symbol: 'none', z: 3, lineStyle: { color: '#000', width: 2 } },
    tl(MACD_PINK_DASH, '#ff7a7a', 2, [5, 3], 3),
    tl(MACD_RED_DASH, '#ff1a1a', 2.5, [5, 3], 3),
  ];

  const frame = (y: number, h: number) => ({
    type: 'rect', silent: true, z: 20, shape: { x: 12.5, y, width: 839.5, height: h },
    style: { fill: 'none', stroke: '#a9a9a9', lineWidth: 1 },
  });
  const txt = (x: number, y: number, text: string, font: string, fill = '#000', align = 'left', extra: any = {}) => ({
    type: 'text', x, y, silent: true, z: 30,
    style: { text, font, fill, align, verticalAlign: 'middle', ...extra },
  });
  const bar = (x: number, y: number, w: number, h: number, fill: string) => ({
    type: 'rect', silent: true, z: 30, shape: { x, y, width: w, height: h }, style: { fill },
  });

  const graphic = [
    frame(30.5, 131.5), frame(162, 388), frame(550, 130), frame(680, 80),
    // header
    txt(11, 11.5, '$SPX', `bold 13.5px ${SANS}`),
    txt(50, 12.5, '(S&P 500 Large Cap Index) INDX', `10.6px ${SANS}`),
    txt(12, 25, '14-Aug-2012 3:37pm', `10.5px ${SANS}`),
    txt(851, 12, '\u00a9 StockCharts.com', `10.5px ${SANS}`, '#555', 'right'),
    txt(456.7, 24.5, 'Open', `bold 11px ${SANS}`),
    txt(489.3, 24.5, '1404.36', `11px ${SANS}`),
    txt(534, 24.5, 'High', `bold 11px ${SANS}`),
    txt(561.7, 24.5, '1410.03', `11px ${SANS}`),
    txt(606, 24.5, 'Low', `bold 11px ${SANS}`),
    txt(634, 24.5, '1402.21', `11px ${SANS}`),
    txt(678.3, 24.5, 'Last', `bold 11px ${SANS}`),
    txt(705.7, 24.5, '1402.49', `11px ${SANS}`),
    txt(750, 24.5, 'Chg', `bold 11px ${SANS}`),
    txt(775, 24.5, '-1.62 (-0.12%)', `11px ${SANS}`),
    { type: 'polygon', silent: true, z: 30, shape: { points: [[844.5, 22.5], [850.5, 22.5], [847.5, 27]] }, style: { fill: '#8b1c2c' } },
    // STO legend
    bar(14, 36.3, 9, 2.6, '#000'),
    txt(27, 37.5, '{a|Slow STO %K(60) %D(3) 53.97, }{r|62.71}', `11px ${VERD}`, '#000', 'left', {
      rich: { a: { fill: '#000', font: `10.8px ${VERD}` }, r: { fill: '#ee0000', font: `10.8px ${VERD}` } },
    }),
    // price legend
    bar(14, 165, 1.6, 6, '#000'), bar(16.5, 163.5, 1.6, 7, '#000'), bar(19, 166, 1.6, 5, '#000'), bar(21.5, 164, 1.6, 6, '#000'),
    txt(27, 168, '$SPX (15 min) 1402.49', `10.8px ${VERD}`),
    bar(14, 179, 9, 2.4, '#000080'),
    txt(24.3, 180.3, 'EMA(13) 1405.59', `9.8px ${SANS}`, '#000088'),
    bar(14, 189.7, 9, 2.4, '#ff0000'),
    txt(24.3, 191, 'EMA(34) 1405.24', `9.8px ${SANS}`, '#ee0000'),
    // RSI legend
    { type: 'polygon', silent: true, z: 30, shape: { points: [[14, 561], [17, 554], [19, 557], [21.5, 552.5], [24, 561]] }, style: { fill: '#4f7350' } },
    txt(27, 557, 'RSI(14) 36.88', `10.8px ${VERD}`),
    // MACD legend
    bar(14, 687, 9, 2.6, '#000'),
    txt(27, 688.3, '{a|MACD(12,26,9) -0.006}{r|, 0.558}{b|, -0.564}', `10.8px ${VERD}`, '#000', 'left', {
      rich: {
        a: { fill: '#000', font: `10.8px ${VERD}` },
        r: { fill: '#ee0000', font: `10.8px ${VERD}` },
        b: { fill: '#3399cc', font: `10.8px ${VERD}` },
      },
    }),
  ];

  return { animation: false, backgroundColor: '#ffffff', grid, xAxis, yAxis, series, graphic };
}

export default function App() {
  const ref = useRef<HTMLDivElement>(null);
  useEffect(() => {
    document.body.style.margin = '0';
    const chart = echarts.init(ref.current as HTMLDivElement, null, { renderer: 'svg' });
    chart.setOption(buildOption());
    return () => chart.dispose();
  }, []);
  return <div ref={ref} style={{ width: 887, height: 754, background: '#fff' }} />;
}
